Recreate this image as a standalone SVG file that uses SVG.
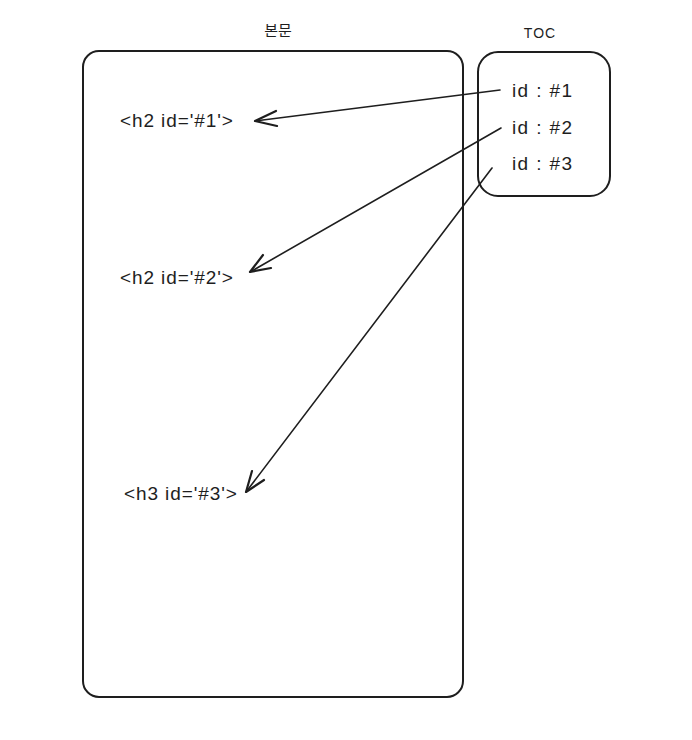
<svg xmlns="http://www.w3.org/2000/svg" width="692" height="740" viewBox="0 0 692 740">
<style>
.box{fill:none;stroke:#1e1e1e;stroke-width:2}
.t{font-family:"Liberation Sans","Noto Sans CJK KR",sans-serif;fill:#1e1e1e}
.lbl{font-size:19px;letter-spacing:0.9px}
.item{font-size:19px;letter-spacing:1.4px}
.ar{fill:none;stroke:#1e1e1e;stroke-width:1.6;stroke-linecap:round;stroke-linejoin:round}
.hd{fill:none;stroke:#1e1e1e;stroke-width:2.2;stroke-linecap:round;stroke-linejoin:round}
</style>
<rect width="692" height="740" fill="#ffffff"/>
<g id="main">
<rect class="box" x="83" y="51" width="380" height="646" rx="16"/>
<text class="t" x="278" y="36" font-size="15" text-anchor="middle">본문</text>
</g>
<g id="toc">
<rect class="box" x="478" y="52" width="132" height="144" rx="20"/>
<text class="t" x="540" y="38" font-size="14" letter-spacing="1" text-anchor="middle">TOC</text>
<text class="t item" x="512" y="97">id : #1</text>
<text class="t item" x="512" y="134">id : #2</text>
<text class="t item" x="512" y="170">id : #3</text>
</g>
<g id="h1">
<text class="t lbl" x="120" y="127">&lt;h2 id='#1'&gt;</text>
</g>
<g id="h2">
<text class="t lbl" x="120" y="284">&lt;h2 id='#2'&gt;</text>
</g>
<g id="h3">
<text class="t lbl" x="124" y="500">&lt;h3 id='#3'&gt;</text>
</g>
<g id="connectors">
<path class="ar" d="M500 90 L255 121"/>
<path class="hd" d="M276 111 L255 121 L277 126"/>
<path class="ar" d="M501 128 L250 272"/>
<path class="hd" d="M263 255 L250 272 L271 268"/>
<path class="ar" d="M492 168 L246 492"/>
<path class="hd" d="M252 471 L246 492 L264 480"/>
</g>
</svg>
